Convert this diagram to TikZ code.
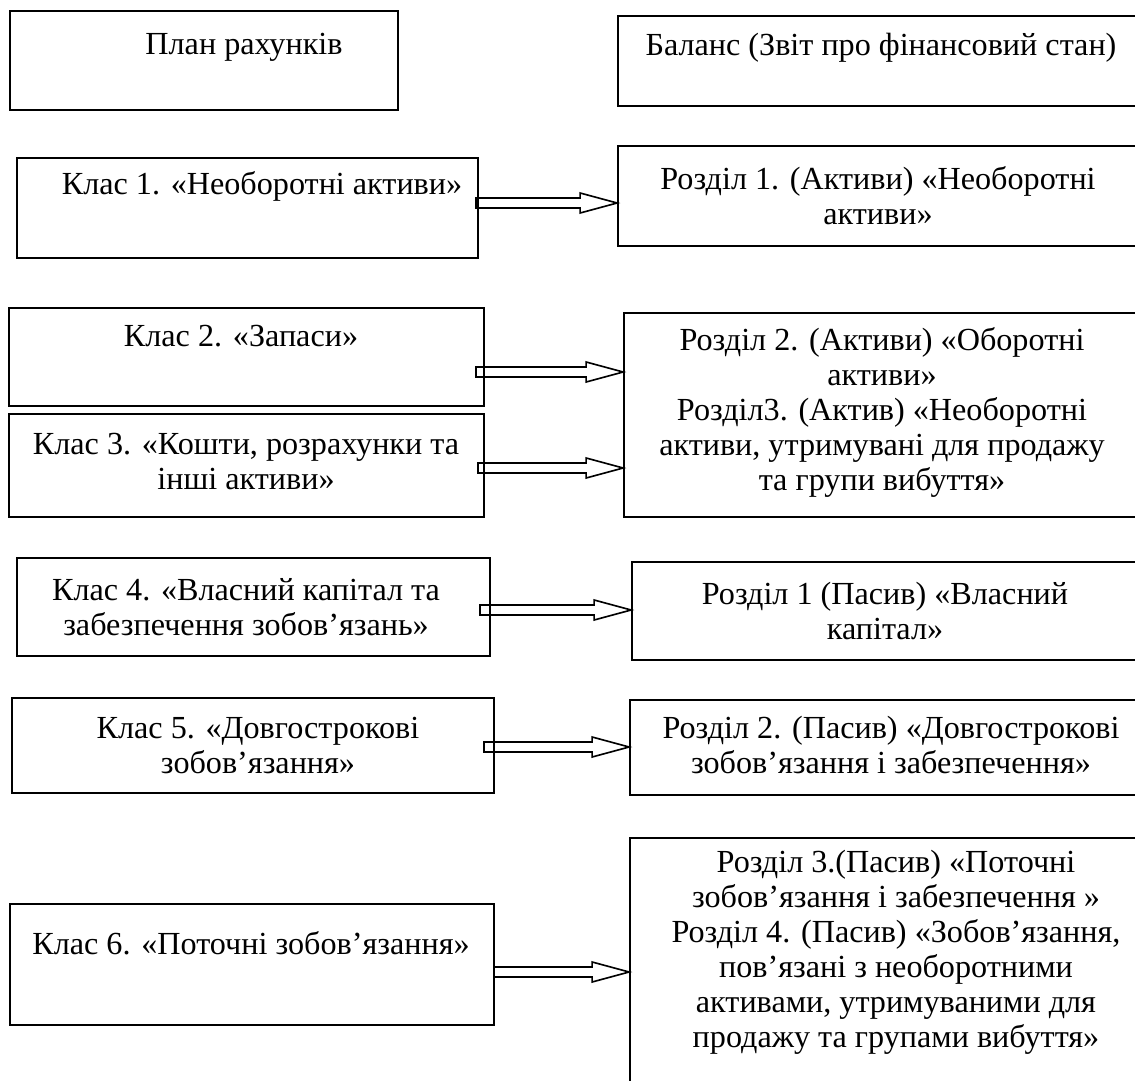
\documentclass[tikz,border=0pt]{standalone}
\usepackage{fontspec}
\setmainfont{Liberation Serif}
\usetikzlibrary{fit,calc}

\tikzset{
  box/.style={draw, line width=0.8pt, inner sep=0pt},
  lbl/.style={align=center, inner sep=0pt, font=\fontsize{14.8pt}{16.1pt}\selectfont},
  arrowline/.style={draw, line width=0.75pt, line join=miter}
}

% hollow block arrow from a coordinate to the west side of a node
\newcommand{\blockarrow}[2]{%
  \draw[arrowline] ($(#1)+(0,-5)$) -- ($(#1 -| #2.west)+(-37,-5)$) -- ++(0,-5)
    -- (#1 -| #2.west) -- ++(-37,10) -- ++(0,-5) -- ($(#1)+(0,5)$) -- cycle;}

\begin{document}
\begin{tikzpicture}[x=0.46pt, y=-0.46pt]

    \useasboundingbox (0,0) rectangle (1135,1081);
    \clip (0,0) rectangle (1135,1081);

    % Headings
    \node[box, fit={(10,11) (398,110)}] (plan) {};
    \node[lbl] (tplan) at (244,47) {План рахунків};
    \node[box, fit={(618,16) (1140,106)}] (bal) {};
    \node[lbl] (tbal) at (881,48) {Баланс (Звіт про фінансовий стан)};

    % Classes of the chart of accounts
    \node[box, fit={(17,158) (478,258)}] (k1) {};
    \node[lbl] (tk1) at (262,186) {Клас 1. «Необоротні активи»};
    \node[box, fit={(9,308) (484,406)}] (k2) {};
    \node[lbl] (tk2) at (241,336) {Клас 2. «Запаси»};
    \node[box, fit={(9,414) (484,517)}] (k3) {};
    \node[lbl] (tk3) at (246,462) {Клас 3. «Кошти, розрахунки та\\інші активи»};
    \node[box, fit={(17,558) (490,656)}] (k4) {};
    \node[lbl] (tk4) at (246,607) {Клас 4. «Власний капітал та\\забезпечення зобов’язань»};
    \node[box, fit={(12,698) (494,793)}] (k5) {};
    \node[lbl] (tk5) at (258,745) {Клас 5. «Довгострокові\\зобов’язання»};
    \node[box, fit={(10,904) (494,1025)}] (k6) {};
    \node[lbl] (tk6) at (251,943) {Клас 6. «Поточні зобов’язання»};

    % Sections of the balance sheet
    \node[box, fit={(618,146) (1140,246)}] (r1) {};
    \node[lbl] (tr1) at (878,196) {Розділ 1. (Активи) «Необоротні\\активи»};
    \node[box, fit={(624,313) (1140,517)}] (r2) {};
    \node[lbl] (tr2) at (882,412) {Розділ 2. (Активи) «Оборотні\\активи»\\Розділ3. (Актив) «Необоротні\\активи, утримувані для продажу\\та групи вибуття»};
    \node[box, fit={(632,562) (1140,660)}] (p1) {};
    \node[lbl] (tp1) at (885,611) {Розділ 1 (Пасив) «Власний\\капітал»};
    \node[box, fit={(630,700) (1140,795)}] (p2) {};
    \node[lbl] (tp2) at (891,745) {Розділ 2. (Пасив) «Довгострокові\\зобов’язання і забезпечення»};
    \node[box, fit={(630,838) (1140,1095)}] (p3) {};
    \node[lbl] (tp3) at (896,952) {Розділ 3.(Пасив) «Поточні\\зобов’язання і забезпечення »\\Розділ 4. (Пасив) «Зобов’язання,\\пов’язані з необоротними\\активами, утримуваними для\\продажу та групами вибуття»};

    % Arrows
    \coordinate (a1) at (476,203);
    \coordinate (a2) at (476,372);
    \coordinate (a3) at (478,468);
    \coordinate (a4) at (480,610);
    \coordinate (a5) at (484,747);
    \coordinate (a6) at (494,972);
    \blockarrow{a1}{r1}
    \blockarrow{a2}{r2}
    \blockarrow{a3}{r2}
    \blockarrow{a4}{p1}
    \blockarrow{a5}{p2}
    \blockarrow{a6}{p3}
\end{tikzpicture}
\end{document}
